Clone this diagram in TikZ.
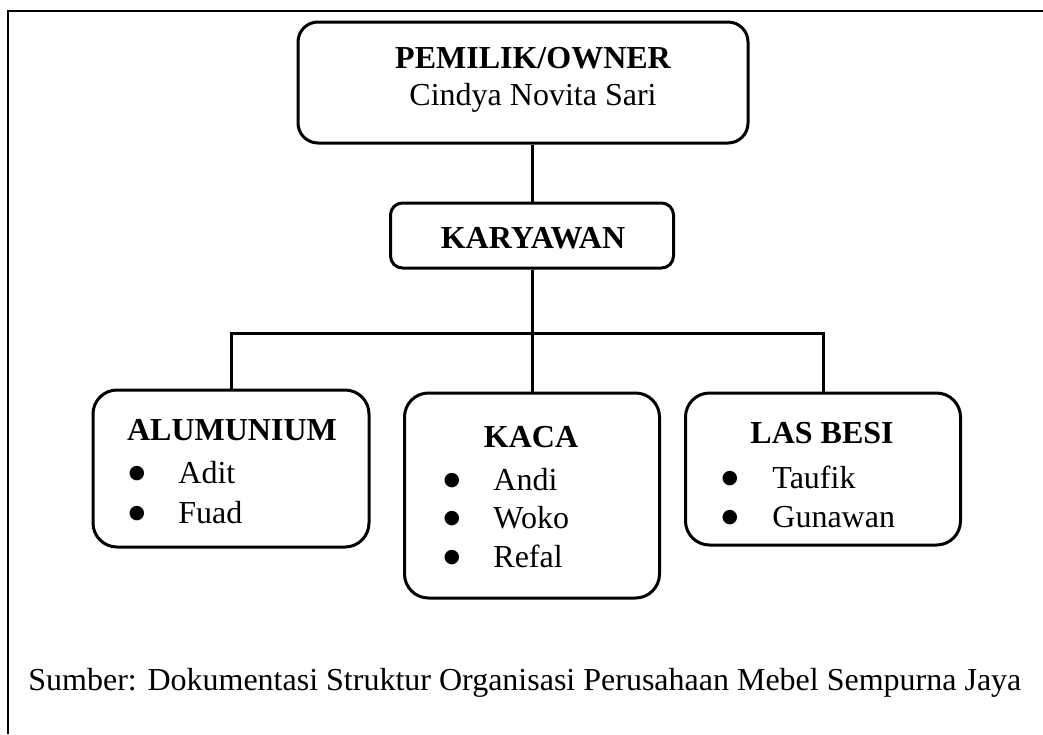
\documentclass[tikz,border=0pt]{standalone}
\usepackage{fontspec}
\setmainfont{Liberation Serif}
\newfontfamily\simbol{DejaVu Sans}
\usetikzlibrary{calc}

\newcommand{\ukuran}{\fontsize{16}{19}\selectfont}
\newcommand{\butir}{\raisebox{2.3pt}{\simbol\fontsize{9.5}{9.5}\selectfont ●}}

\tikzset{
  kotak/.style={draw,line width=1.5pt,rounded corners=#1,inner sep=0pt},
  judul/.style={anchor=base,inner sep=0pt,font=\ukuran\bfseries},
  titik/.style={anchor=base,inner sep=0pt},
  nama/.style={anchor=base west,inner sep=0pt},
}

\begin{document}
\begin{tikzpicture}[x=0.5pt,y=-0.5pt,font=\ukuran]
  \useasboundingbox (0,0) rectangle (1043,734);
  % bingkai
  \draw[line width=0.75pt] (1043,11) -- (8,11) -- (8,734);

  % kotak-kotak
  \node[kotak=10pt,minimum width=225pt,minimum height=60.5pt] (owner) at (523,82.5) {};
  \node[kotak=6pt,minimum width=141.5pt,minimum height=32.5pt] (karyawan) at (532,235.5) {};
  \node[kotak=12pt,minimum width=138pt,minimum height=78.5pt] (alumunium) at (231,468.5) {};
  \node[kotak=12pt,minimum width=127.5pt,minimum height=102.5pt] (kaca) at (532,495.5) {};
  \node[kotak=12pt,minimum width=137.5pt,minimum height=76pt] (lasbesi) at (823,469) {};

  % garis penghubung
  \coordinate (cabang) at (532,333);
  \draw[line width=1.5pt] (karyawan.north) -- (karyawan.north |- owner.south);
  \draw[line width=1.5pt] (karyawan.south) -- (kaca.north);
  \draw[line width=1.5pt] (alumunium.north) -- (alumunium.north |- cabang)
    -- (lasbesi.north |- cabang) -- (lasbesi.north);

  % teks pemilik
  \node[judul] (owner-judul) at (533,68) {PEMILIK/OWNER};
  \node[titik] (owner-nama) at (533,105) {Cindya Novita Sari};
  \node[judul] (karyawan-judul) at (533,248) {KARYAWAN};

  % alumunium
  \node[judul] (alu-judul) at (232,440) {ALUMUNIUM};
  \node[titik] (alu-b1) at (137,483) {\butir};
  \node[nama] (alu-n1) at (178,483) {Adit};
  \node[titik] (alu-b2) at (137,523) {\butir};
  \node[nama] (alu-n2) at (178,523) {Fuad};

  % kaca
  \node[judul] (kaca-judul) at (531,447) {KACA};
  \node[titik] (kaca-b1) at (452,490) {\butir};
  \node[nama] (kaca-n1) at (493,490) {Andi};
  \node[titik] (kaca-b2) at (452,528) {\butir};
  \node[nama] (kaca-n2) at (493,528) {Woko};
  \node[titik] (kaca-b3) at (452,567) {\butir};
  \node[nama] (kaca-n3) at (493,567) {Refal};

  % las besi
  \node[judul] (las-judul) at (822,443) {LAS BESI};
  \node[titik] (las-b1) at (730,488) {\butir};
  \node[nama] (las-n1) at (772,488) {Taufik};
  \node[titik] (las-b2) at (730,527) {\butir};
  \node[nama] (las-n2) at (772,527) {Gunawan};

  % sumber
  \node[nama] (sumber) at (28,690) {Sumber: Dokumentasi Struktur Organisasi Perusahaan Mebel Sempurna Jaya};
\end{tikzpicture}
\end{document}
